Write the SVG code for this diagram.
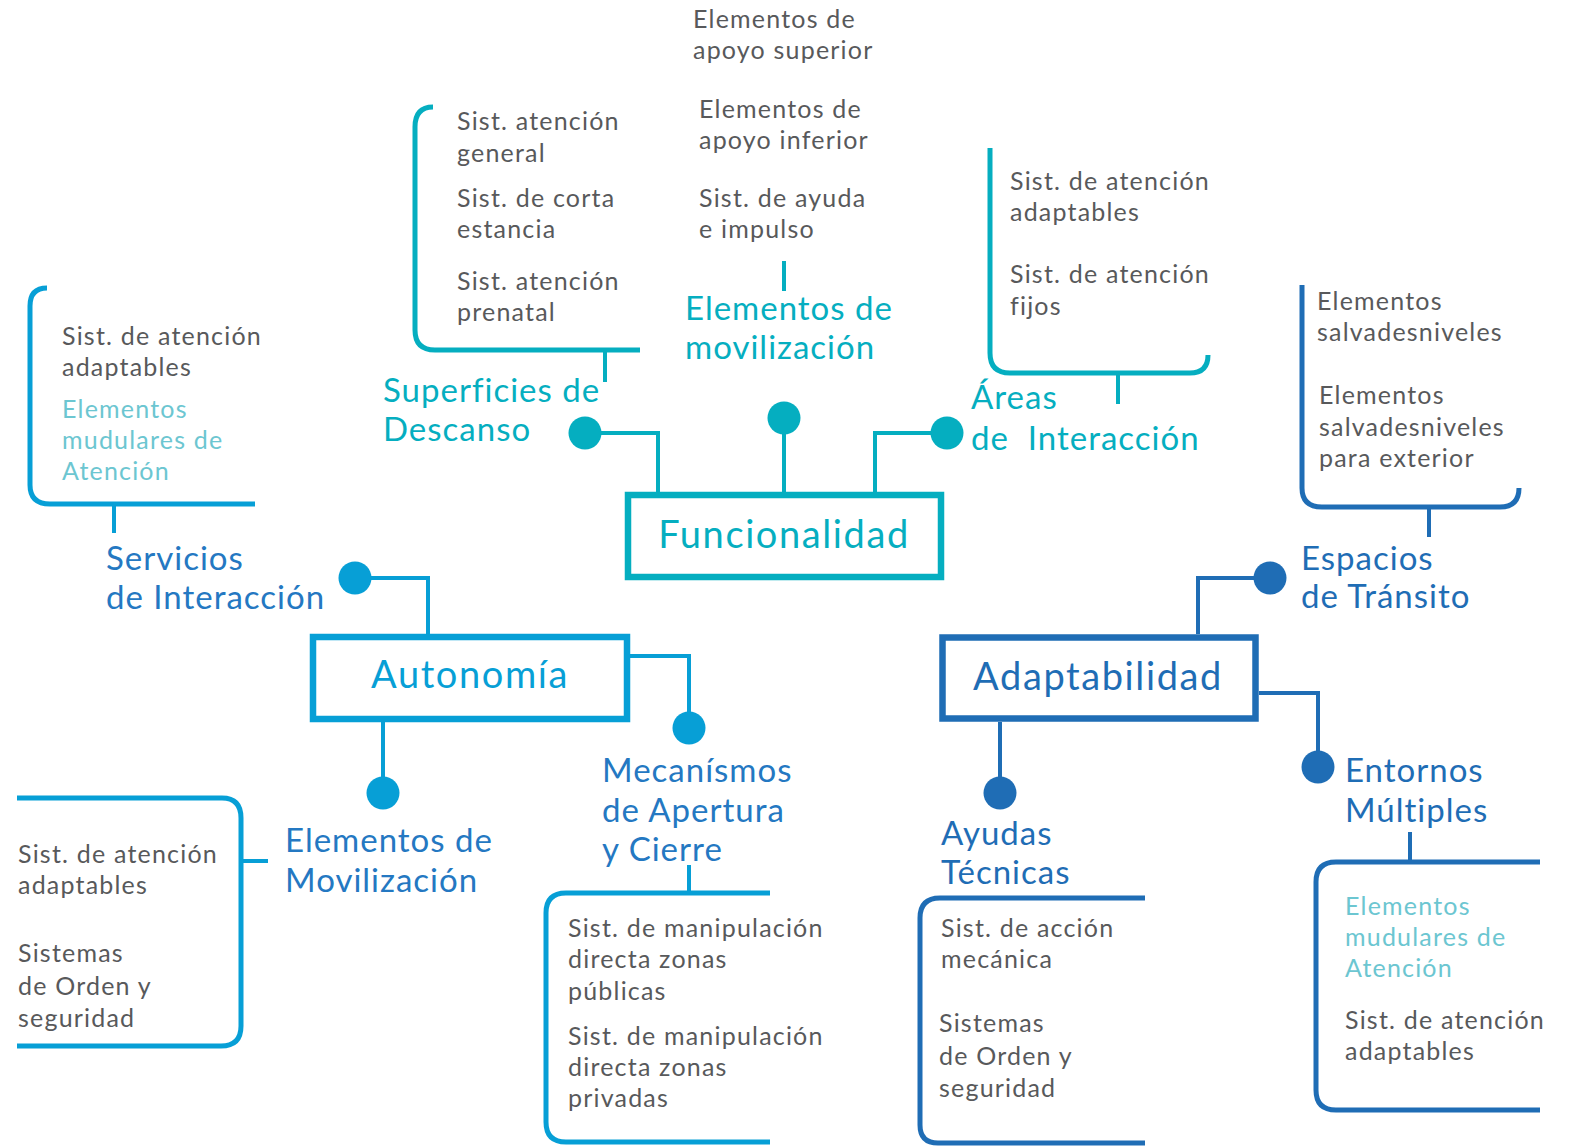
<svg xmlns="http://www.w3.org/2000/svg" width="1569" height="1147" viewBox="0 0 1569 1147">
<style>
text{font-family:Lato,"Open Sans","Liberation Sans",sans-serif;}
.it{font-size:25px;fill:#58595b;letter-spacing:1.2px;}
.lt{font-size:25px;fill:#6cc6d1;letter-spacing:1.2px;}
.lab{font-size:33px;letter-spacing:1px;}
.main{font-size:38px;text-anchor:middle;letter-spacing:1.6px;}
.t{fill:#05aec0;} .b{fill:#079fd6;} .d{fill:#1f6db5;} .m{fill:#2478c2;}
.st{stroke:#05aec0;} .sb{stroke:#079fd6;} .sd{stroke:#1f6db5;}
.br{fill:none;stroke-width:5;}
.cn{fill:none;stroke-width:4;}
.bx{fill:#fff;stroke-width:6.5;}
</style>
<rect width="1569" height="1147" fill="#fff"/>
<g id="connectors">
  <path class="cn st" d="M658,492 V433 H585"/>
  <path class="cn st" d="M784,492 V418"/>
  <path class="cn st" d="M875,492 V433 H947"/>
  <path class="cn st" d="M605,350 V382"/>
  <path class="cn st" d="M784,261 V291"/>
  <path class="cn st" d="M1118,373 V404"/>
  <path class="cn sb" d="M428,634 V578 H355"/>
  <path class="cn sb" d="M630,656 H689 V728"/>
  <path class="cn sb" d="M383,722 V793"/>
  <path class="cn sb" d="M114,504 V533"/>
  <path class="cn sb" d="M241,861 H268"/>
  <path class="cn sb" d="M689,865 V893"/>
  <path class="cn sd" d="M1198,634 V578 H1270"/>
  <path class="cn sd" d="M1259,693 H1318 V767"/>
  <path class="cn sd" d="M1000,722 V793"/>
  <path class="cn sd" d="M1429,507 V537"/>
  <path class="cn sd" d="M1410,832 V862"/>
  <circle cx="585" cy="433" r="16.5" class="t"/>
  <circle cx="784" cy="418" r="16.5" class="t"/>
  <circle cx="947" cy="433" r="16.5" class="t"/>
  <circle cx="355" cy="578" r="16.5" class="b"/>
  <circle cx="689" cy="728" r="16.5" class="b"/>
  <circle cx="383" cy="793" r="16.5" class="b"/>
  <circle cx="1270" cy="578" r="16.5" class="d"/>
  <circle cx="1318" cy="767" r="16.5" class="d"/>
  <circle cx="1000" cy="793" r="16.5" class="d"/>
</g>
<g id="funcionalidad">
  <rect x="628" y="495" width="313" height="82" class="bx st"/>
  <text x="784" y="548" class="main t">Funcionalidad</text>
</g>
<g id="autonomia">
  <rect x="313" y="637" width="314" height="82" class="bx sb"/>
  <text x="470" y="688" class="main b">Autonomía</text>
</g>
<g id="adaptabilidad">
  <rect x="942.5" y="637.5" width="313" height="81" class="bx sd"/>
  <text x="1098" y="690" class="main d">Adaptabilidad</text>
</g>
<g id="superficies">
  <path class="br st" d="M433,107 Q415,107 415,127 V330 Q415,350 435,350 H640"/>
  <text x="457" y="130" class="it">Sist. atención</text>
  <text x="457" y="162" class="it">general</text>
  <text x="457" y="207" class="it">Sist. de corta</text>
  <text x="457" y="238" class="it">estancia</text>
  <text x="457" y="290" class="it">Sist. atención</text>
  <text x="457" y="321" class="it">prenatal</text>
  <text x="383" y="402" class="lab t">Superficies de</text>
  <text x="383" y="441" class="lab t">Descanso</text>
</g>
<g id="movilizacion-func">
  <text x="693" y="28" class="it">Elementos de</text>
  <text x="693" y="59" class="it">apoyo superior</text>
  <text x="699" y="118" class="it">Elementos de</text>
  <text x="699" y="149" class="it">apoyo inferior</text>
  <text x="699" y="207" class="it">Sist. de ayuda</text>
  <text x="699" y="238" class="it">e impulso</text>
  <text x="685" y="320" class="lab t">Elementos de</text>
  <text x="685" y="359" class="lab t">movilización</text>
</g>
<g id="areas">
  <path class="br st" d="M990,148 V353 Q990,373 1010,373 H1190 Q1208,373 1208,355"/>
  <text x="1010" y="190" class="it">Sist. de atención</text>
  <text x="1010" y="221" class="it">adaptables</text>
  <text x="1010" y="283" class="it">Sist. de atención</text>
  <text x="1010" y="315" class="it">fijos</text>
  <text x="971" y="409" class="lab t">Áreas</text>
  <text x="971" y="450" class="lab t" xml:space="preserve">de  Interacción</text>
</g>
<g id="espacios">
  <path class="br sd" d="M1302,285 V488 Q1302,507 1322,507 H1500 Q1519,507 1519,488"/>
  <text x="1317" y="310" class="it">Elementos</text>
  <text x="1317" y="341" class="it">salvadesniveles</text>
  <text x="1319" y="404" class="it">Elementos</text>
  <text x="1319" y="436" class="it">salvadesniveles</text>
  <text x="1319" y="467" class="it">para exterior</text>
  <text x="1301" y="570" class="lab d">Espacios</text>
  <text x="1301" y="608" class="lab d">de Tránsito</text>
</g>
<g id="servicios">
  <path class="br sb" d="M47,288 Q30,288 30,306 V485 Q30,504 50,504 H255"/>
  <text x="62" y="345" class="it">Sist. de atención</text>
  <text x="62" y="376" class="it">adaptables</text>
  <text x="62" y="418" class="lt">Elementos</text>
  <text x="62" y="449" class="lt">mudulares de</text>
  <text x="62" y="480" class="lt">Atención</text>
  <text x="106" y="570" class="lab m">Servicios</text>
  <text x="106" y="609" class="lab m">de Interacción</text>
</g>
<g id="movilizacion-auto">
  <path class="br sb" d="M17,798 H222 Q241,798 241,818 V1026 Q241,1046 221,1046 H17"/>
  <text x="18" y="863" class="it">Sist. de atención</text>
  <text x="18" y="894" class="it">adaptables</text>
  <text x="18" y="962" class="it">Sistemas</text>
  <text x="18" y="995" class="it">de Orden y</text>
  <text x="18" y="1027" class="it">seguridad</text>
  <text x="285" y="852" class="lab m">Elementos de</text>
  <text x="285" y="892" class="lab m">Movilización</text>
</g>
<g id="mecanismos">
  <path class="br sb" d="M770,893 H566 Q546,893 546,913 V1122 Q546,1142 566,1142 H770"/>
  <text x="568" y="937" class="it">Sist. de manipulación</text>
  <text x="568" y="968" class="it">directa zonas</text>
  <text x="568" y="1000" class="it">públicas</text>
  <text x="568" y="1045" class="it">Sist. de manipulación</text>
  <text x="568" y="1076" class="it">directa zonas</text>
  <text x="568" y="1107" class="it">privadas</text>
  <text x="602" y="782" class="lab m">Mecanísmos</text>
  <text x="602" y="822" class="lab m">de Apertura</text>
  <text x="602" y="861" class="lab m">y Cierre</text>
</g>
<g id="ayudas">
  <path class="br sd" d="M1145,898 H940 Q920,898 920,918 V1125 Q920,1143 938,1143 H1145"/>
  <text x="941" y="937" class="it">Sist. de acción</text>
  <text x="941" y="968" class="it">mecánica</text>
  <text x="939" y="1032" class="it">Sistemas</text>
  <text x="939" y="1065" class="it">de Orden y</text>
  <text x="939" y="1097" class="it">seguridad</text>
  <text x="941" y="845" class="lab d">Ayudas</text>
  <text x="941" y="884" class="lab d">Técnicas</text>
</g>
<g id="entornos">
  <path class="br sd" d="M1540,862 H1336 Q1316,862 1316,882 V1090 Q1316,1110 1336,1110 H1540"/>
  <text x="1345" y="915" class="lt">Elementos</text>
  <text x="1345" y="946" class="lt">mudulares de</text>
  <text x="1345" y="977" class="lt">Atención</text>
  <text x="1345" y="1029" class="it">Sist. de atención</text>
  <text x="1345" y="1060" class="it">adaptables</text>
  <text x="1345" y="782" class="lab d">Entornos</text>
  <text x="1345" y="822" class="lab d">Múltiples</text>
</g>
</svg>
